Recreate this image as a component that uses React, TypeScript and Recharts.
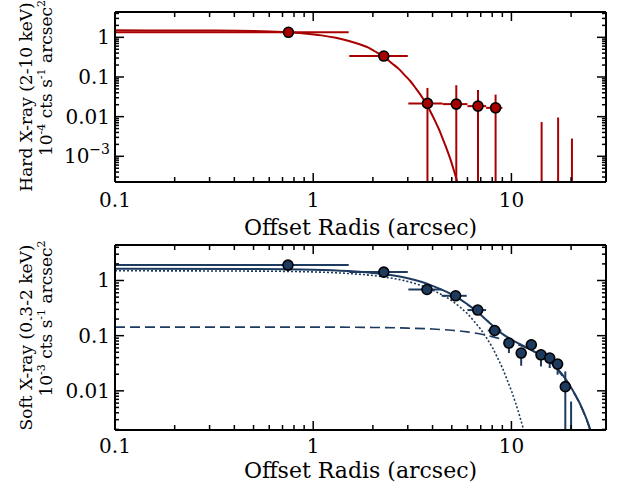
import {
  ComposedChart,
  Line,
  Scatter,
  XAxis,
  YAxis,
  ErrorBar,
  Label,
} from "recharts";

const SERIF = "'DejaVu Serif', serif";
const RED = "#a80000";
const NAVY = "#1d3a5f";

// shared log x axis (arcsec)
const radiusTicks = [0.1, 0.2, 0.3, 0.4, 0.5, 0.6, 0.7, 0.8, 0.9, 1, 2, 3, 4, 5, 6, 7, 8, 9, 10, 20];

// --- hard band (2-10 keV) ---
const hardFloor = 0.000225;
const hardR = [0.75, 2.27, 3.77, 5.27, 6.78, 8.32];
const hardRate = [1.34, 0.337, 0.0216, 0.0207, 0.0184, 0.0167];
const hardRLo = [0.1, 1.52, 3.02, 4.5, 6.0, 7.45];
const hardRHi = [1.51, 3.0, 4.5, 6.0, 7.45, 9.0];
const hardRateLo = [1.24, 0.27, hardFloor, hardFloor, hardFloor, hardFloor];
const hardRateHi = [1.44, 0.42, 0.053, 0.062, 0.047, 0.036];
const hardLimitR = [14.2, 17.2, 20.2];
const hardLimitRate = [0.0073, 0.0095, 0.0028];
const hardModelR = [0.1, 0.2, 0.3, 0.5, 0.7, 0.9, 1.1, 1.3, 1.5, 1.7, 1.9, 2.1, 2.3, 2.5, 2.7, 2.9, 3.1, 3.3, 3.5, 3.7, 3.9, 4.1, 4.3, 4.5, 4.7, 4.9, 5.1, 5.3, 5.5];
const hardModel = [1.5, 1.49, 1.48, 1.44, 1.36, 1.25, 1.12, 0.97, 0.82, 0.68, 0.55, 0.41, 0.31, 0.22, 0.16, 0.11, 0.077, 0.051, 0.034, 0.022, 0.0135, 0.0082, 0.0049, 0.0028, 0.0016, 0.0009, 0.00048, 0.00025, 0.00012];
const hardTicks = [
  0.0003, 0.0004, 0.0005, 0.0006, 0.0007, 0.0008, 0.0009,
  0.001, 0.002, 0.003, 0.004, 0.005, 0.006, 0.007, 0.008, 0.009,
  0.01, 0.02, 0.03, 0.04, 0.05, 0.06, 0.07, 0.08, 0.09,
  0.1, 0.2, 0.3, 0.4, 0.5, 0.6, 0.7, 0.8, 0.9, 1, 2, 3, 4,
];

// --- soft band (0.3-2 keV) ---
const softFloor = 0.00195;
const softR = [0.746, 2.27, 3.75, 5.23, 6.76, 8.23, 9.71, 11.2, 12.6, 14.1, 15.6, 17.1, 18.7];
const softRate = [1.9, 1.42, 0.687, 0.528, 0.291, 0.124, 0.0734, 0.0484, 0.0684, 0.045, 0.0393, 0.0306, 0.0119];
const softRLo = [0.1, 1.52, 3.02, 4.45, 6.0, 7.6, 9.3, 10.8, 12.2, 13.7, 15.2, 16.7, 18.3];
const softRHi = [1.51, 3.0, 4.45, 5.95, 7.45, 8.9, 10.1, 11.6, 13.0, 14.5, 16.0, 17.5, 19.1];
const softRateLo = [1.82, 1.36, 0.62, 0.47, 0.25, 0.104, 0.0484, 0.0285, 0.0555, 0.0277, 0.0259, 0.0196, softFloor];
const softRateHi = [1.98, 1.48, 0.76, 0.59, 0.34, 0.147, 0.0867, 0.0596, 0.0867, 0.0555, 0.0484, 0.0366, 0.0225];
const softLimitR = [20.0];
const softLimitRate = [0.0064];
const softTotalR = [0.1, 0.5, 1, 1.5, 2, 2.5, 3, 3.5, 4, 4.5, 5, 5.5, 6, 6.5, 7, 7.5, 8, 8.5, 9, 10, 11, 12, 14, 16, 18, 20, 22, 24, 26];
const softTotal = [1.64, 1.62, 1.57, 1.48, 1.37, 1.24, 1.1, 0.95, 0.8, 0.67, 0.56, 0.46, 0.37, 0.3, 0.24, 0.19, 0.155, 0.127, 0.108, 0.085, 0.071, 0.06, 0.045, 0.032, 0.02, 0.0115, 0.0062, 0.003, 0.0013];
const softCoreR = [0.1, 0.5, 1, 1.5, 2, 2.5, 3, 3.5, 4, 4.5, 5, 5.5, 6, 6.5, 7, 7.5, 8, 8.5, 9, 9.5, 10, 10.5, 11, 11.5, 12];
const softCore = [1.5, 1.48, 1.43, 1.34, 1.23, 1.1, 0.96, 0.81, 0.67, 0.54, 0.43, 0.33, 0.25, 0.18, 0.13, 0.09, 0.062, 0.04, 0.026, 0.016, 0.01, 0.006, 0.0035, 0.002, 0.0011];
const softExtR = [0.1, 1, 2, 3, 4, 5, 6, 7, 8, 9, 10, 11, 12, 14, 16, 18, 20, 22, 24, 26];
const softExt = [0.143, 0.143, 0.141, 0.137, 0.132, 0.125, 0.117, 0.107, 0.096, 0.085, 0.076, 0.067, 0.059, 0.044, 0.031, 0.019, 0.011, 0.006, 0.0029, 0.0012];
const softTicks = [
  0.002, 0.003, 0.004, 0.005, 0.006, 0.007, 0.008, 0.009,
  0.01, 0.02, 0.03, 0.04, 0.05, 0.06, 0.07, 0.08, 0.09,
  0.1, 0.2, 0.3, 0.4, 0.5, 0.6, 0.7, 0.8, 0.9, 1, 2, 3, 4,
];

const toPoints = (r: number[], v: number[], rLo: number[], rHi: number[], vLo: number[], vHi: number[]) =>
  r.map((x, i) => ({
    r: x,
    v: v[i],
    ex: [x - rLo[i], rHi[i] - x],
    ey: [v[i] - vLo[i], vHi[i] - v[i]],
  }));
const toLimits = (r: number[], v: number[], floor: number) =>
  r.map((x, i) => ({ r: x, v: v[i], ey: [v[i] - floor, 0] }));
const toCurve = (r: number[], v: number[]) => r.map((x, i) => ({ r: x, v: v[i] }));

const isMajor = (v: number) => Math.abs(Math.log10(v) - Math.round(Math.log10(v))) < 1e-6;

function tickText(v: number) {
  if (v >= 0.01) return <>{String(v)}</>;
  const p = Math.round(Math.log10(v));
  return (
    <>
      10
      <tspan dy={-9} fontSize={14}>
        {"\u2212" + Math.abs(p)}
      </tspan>
    </>
  );
}

const bottomTick = (gap: number) => (p: any) => {
  const major = isMajor(p.payload.value);
  return (
    <g>
      <line x1={p.x} x2={p.x} y1={p.y} y2={p.y - (major ? 9 : 5)} stroke="#000" strokeWidth={1.5} />
      {major && (
        <text x={p.x} y={p.y + gap} textAnchor="middle" fontSize={20} fontFamily={SERIF} fill="#000">
          {tickText(p.payload.value)}
        </text>
      )}
    </g>
  );
};
const TopTick = (p: any) => {
  const major = isMajor(p.payload.value);
  return <line x1={p.x} x2={p.x} y1={p.y} y2={p.y + (major ? 9 : 5)} stroke="#000" strokeWidth={1.5} />;
};
const LeftTick = (p: any) => {
  const major = isMajor(p.payload.value);
  return (
    <g>
      <line x1={p.x} x2={p.x + (major ? 9 : 4)} y1={p.y} y2={p.y} stroke="#000" strokeWidth={1.5} />
      {major && (
        <text x={p.x - 5} y={p.y + 7} textAnchor="end" fontSize={20} fontFamily={SERIF} fill="#000">
          {tickText(p.payload.value)}
        </text>
      )}
    </g>
  );
};
const RightTick = (p: any) => {
  const major = isMajor(p.payload.value);
  return <line x1={p.x} x2={p.x - (major ? 9 : 4)} y1={p.y} y2={p.y} stroke="#000" strokeWidth={1.5} />;
};

function yTitle(band: string, unit: string) {
  return (p: any) => {
    const vb = p.viewBox;
    const cy = vb.y + vb.height / 2;
    const right = vb.x + vb.width;
    const x1 = right - 83.5;
    const x2 = right - 63;
    return (
      <g fontFamily={SERIF} fill="#000">
        <text x={x1} y={cy} transform={`rotate(-90, ${x1}, ${cy})`} textAnchor="middle" fontSize={17}>
          {band}
        </text>
        <text x={x2} y={cy - 19} transform={`rotate(-90, ${x2}, ${cy - 19})`} textAnchor="middle" fontSize={17}>
          10
          <tspan dy={-7} fontSize={11}>{unit}</tspan>
          <tspan dy={7}> cts s</tspan>
          <tspan dy={-7} fontSize={11}>-1</tspan>
          <tspan dy={7}> arcsec</tspan>
          <tspan dy={-7} fontSize={11}>2</tspan>
        </text>
      </g>
    );
  };
}

function xTitle(gap: number) {
  return (p: any) => {
    const vb = p.viewBox;
    return (
      <text x={vb.x + vb.width / 2} y={vb.y + gap} textAnchor="middle" fontSize={22} fontFamily={SERIF} fill="#000">
        Offset Radis (arcsec)
      </text>
    );
  };
}

const dot = (fill: string) => (p: any) =>
  <circle cx={p.cx} cy={p.cy} r={5} fill={fill} stroke="#000" strokeWidth={1.6} />;
const noDot = () => <g />;

interface PanelProps {
  height: number;
  margin: { top: number; right: number; bottom: number; left: number };
  yDomain: [number, number];
  yTicks: number[];
  color: string;
  points: any[];
  limits: any[];
  tickGap: number;
  titleGap: number;
  band: string;
  unit: string;
  children?: any;
}

function Panel(props: PanelProps) {
  const { height, margin, yDomain, yTicks, color, points, limits, tickGap, titleGap, band, unit, children } = props;
  const axisLine = { stroke: "#000", strokeWidth: 2 };
  return (
    <ComposedChart width={617} height={height} margin={margin}>
      <XAxis
        type="number"
        dataKey="r"
        scale="log"
        domain={[0.1, 30]}
        allowDataOverflow
        ticks={radiusTicks}
        interval={0}
        height={1}
        tickSize={0}
        tickMargin={0}
        tickLine={false}
        axisLine={axisLine}
        tick={bottomTick(tickGap)}
      >
        <Label content={xTitle(titleGap)} />
      </XAxis>
      <XAxis
        xAxisId="top"
        orientation="top"
        type="number"
        dataKey="r"
        scale="log"
        domain={[0.1, 30]}
        allowDataOverflow
        ticks={radiusTicks}
        interval={0}
        height={1}
        tickSize={0}
        tickMargin={0}
        tickLine={false}
        axisLine={axisLine}
        tick={TopTick}
      />
      <YAxis
        type="number"
        dataKey="v"
        scale="log"
        domain={yDomain}
        allowDataOverflow
        ticks={yTicks}
        interval={0}
        width={1}
        tickSize={0}
        tickMargin={0}
        tickLine={false}
        axisLine={axisLine}
        tick={LeftTick}
      >
        <Label content={yTitle(band, unit)} />
      </YAxis>
      <YAxis
        yAxisId="right"
        orientation="right"
        type="number"
        dataKey="v"
        scale="log"
        domain={yDomain}
        allowDataOverflow
        ticks={yTicks}
        interval={0}
        width={1}
        tickSize={0}
        tickMargin={0}
        tickLine={false}
        axisLine={axisLine}
        tick={RightTick}
      />
      {children}
      <Scatter data={limits} shape={noDot} isAnimationActive={false}>
        <ErrorBar dataKey="ey" direction="y" width={0} stroke={color} strokeWidth={2} />
      </Scatter>
      <Scatter data={points} shape={dot(color)} isAnimationActive={false}>
        <ErrorBar dataKey="ex" direction="x" width={0} stroke={color} strokeWidth={2} />
        <ErrorBar dataKey="ey" direction="y" width={0} stroke={color} strokeWidth={2} />
      </Scatter>
    </ComposedChart>
  );
}

export default function App() {
  return (
    <div style={{ position: "absolute", left: 0, top: 0, width: 617, height: 492, background: "#fff" }}>
      <div style={{ position: "absolute", left: 0, top: 0 }}>
        <Panel
          height={245}
          margin={{ top: 11, right: 10, bottom: 62, left: 114 }}
          yDomain={[hardFloor, 4.35]}
          yTicks={hardTicks}
          color={RED}
          points={toPoints(hardR, hardRate, hardRLo, hardRHi, hardRateLo, hardRateHi)}
          limits={toLimits(hardLimitR, hardLimitRate, hardFloor)}
          tickGap={25}
          titleGap={53}
          band="Hard X-ray (2-10 keV)"
          unit="-4"
        >
          <Line
            data={toCurve(hardModelR, hardModel)}
            dataKey="v"
            type="monotone"
            stroke={RED}
            strokeWidth={2}
            dot={false}
            isAnimationActive={false}
          />
        </Panel>
      </div>
      <div style={{ position: "absolute", left: 0, top: 235 }}>
        <Panel
          height={257}
          margin={{ top: 9, right: 10, bottom: 61, left: 114 }}
          yDomain={[softFloor, 4.4]}
          yTicks={softTicks}
          color={NAVY}
          points={toPoints(softR, softRate, softRLo, softRHi, softRateLo, softRateHi)}
          limits={toLimits(softLimitR, softLimitRate, softFloor)}
          tickGap={23}
          titleGap={48}
          band="Soft X-ray (0.3-2 keV)"
          unit="-3"
        >
          <Line
            data={toCurve(softCoreR, softCore)}
            dataKey="v"
            type="monotone"
            stroke={NAVY}
            strokeWidth={1.6}
            strokeDasharray="2 2"
            dot={false}
            isAnimationActive={false}
          />
          <Line
            data={toCurve(softExtR, softExt)}
            dataKey="v"
            type="monotone"
            stroke={NAVY}
            strokeWidth={1.6}
            strokeDasharray="10 5"
            dot={false}
            isAnimationActive={false}
          />
          <Line
            data={toCurve(softTotalR, softTotal)}
            dataKey="v"
            type="monotone"
            stroke={NAVY}
            strokeWidth={2}
            dot={false}
            isAnimationActive={false}
          />
        </Panel>
      </div>
    </div>
  );
}
